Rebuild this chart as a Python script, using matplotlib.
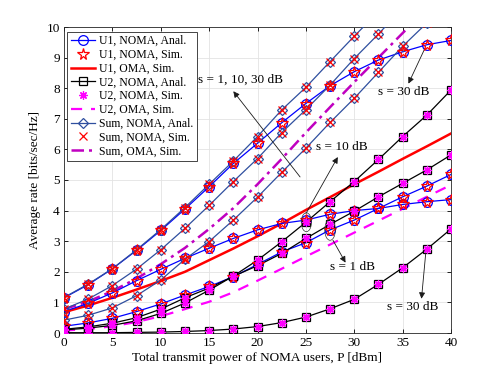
import matplotlib
matplotlib.use("Agg")
import matplotlib.pyplot as plt
from matplotlib.patches import Ellipse

plt.rcParams['font.family'] = ['Liberation Serif', 'DejaVu Serif']

P = [0, 2.5, 5, 7.5, 10, 12.5, 15, 17.5, 20, 22.5, 25, 27.5, 30, 32.5, 35, 37.5, 40]

# U1 NOMA (s = 1, 10, 30 dB)
u1_s1 = [0.22, 0.33, 0.48, 0.70, 0.95, 1.24, 1.52, 1.84, 2.24, 2.65, 2.95, 3.37, 3.69, 4.07, 4.45, 4.80, 5.18]
u1_s10 = [0.70, 0.97, 1.31, 1.71, 2.08, 2.44, 2.77, 3.09, 3.37, 3.58, 3.69, 3.88, 4.00, 4.07, 4.20, 4.29, 4.36]
u1_s30 = [1.15, 1.58, 2.10, 2.70, 3.35, 4.05, 4.78, 5.54, 6.20, 6.87, 7.50, 8.08, 8.54, 8.92, 9.19, 9.42, 9.56]

# U2 NOMA (s = 1, 10, 30 dB)
u2_s1 = [0.12, 0.20, 0.32, 0.50, 0.78, 1.15, 1.47, 1.85, 2.20, 2.60, 3.09, 3.55, 3.98, 4.45, 4.89, 5.33, 5.82]
u2_s10 = [0.10, 0.16, 0.25, 0.40, 0.64, 0.98, 1.40, 1.86, 2.38, 2.98, 3.62, 4.29, 4.95, 5.67, 6.42, 7.12, 7.94]
u2_s30 = [0.01, 0.01, 0.01, 0.02, 0.03, 0.05, 0.08, 0.13, 0.21, 0.34, 0.52, 0.79, 1.10, 1.59, 2.13, 2.74, 3.40]

# Sum NOMA (s = 1, 10, 30 dB)
sum_s1 = [0.42, 0.58, 0.82, 1.22, 1.73, 2.41, 2.99, 3.69, 4.44, 5.25, 6.04, 6.88, 7.67, 8.52, 9.37, 10.13, 11.00]
sum_s10 = [0.78, 1.11, 1.55, 2.09, 2.72, 3.42, 4.17, 4.95, 5.70, 6.55, 7.30, 8.10, 8.97, 9.77, 10.62, 11.41, 12.30]
sum_s30 = [1.16, 1.60, 2.10, 2.72, 3.38, 4.10, 4.86, 5.62, 6.42, 7.29, 8.03, 8.87, 9.70, 10.50, 11.30, 12.20, 12.96]

# OMA
u1_oma = [0.68, 0.90, 1.15, 1.42, 1.70, 2.00, 2.38, 2.76, 3.16, 3.58, 4.02, 4.44, 4.86, 5.27, 5.69, 6.10, 6.52]
u2_oma = [0.08, 0.13, 0.22, 0.36, 0.55, 0.78, 1.02, 1.33, 1.71, 2.10, 2.50, 2.89, 3.28, 3.67, 4.06, 4.45, 4.84]
sum_oma = [0.78, 1.03, 1.37, 1.78, 2.25, 2.78, 3.40, 4.08, 4.86, 5.69, 6.55, 7.38, 8.20, 9.00, 9.80, 10.60, 11.40]

fig = plt.figure(figsize=(4.98, 3.74), dpi=100)
ax = fig.add_axes([64/498, 41/374, 387/498, 306/374])

c_u1 = '#0000ff'
c_u2 = 'black'
c_sum = '#2f4f9f'
c_mag = '#ff00ff'
c_sumoma = '#c000c0'
ast = (8, 2, 0)

# analytical lines
for i, y in enumerate([u1_s1, u1_s10, u1_s30]):
    ax.plot(P, y, '-', color=c_u1, lw=0.9, marker='o', ms=7, mfc='none', mec=c_u1, mew=0.9,
            label='U1, NOMA, Anal.' if i == 0 else None, zorder=3)
for i, y in enumerate([u2_s1, u2_s10, u2_s30]):
    ax.plot(P, y, '-', color=c_u2, lw=0.9, marker='s', ms=6, mfc='none', mec=c_u2, mew=0.9,
            label='U2, NOMA, Anal.' if i == 0 else None, zorder=3)
for i, y in enumerate([sum_s1, sum_s10, sum_s30]):
    ax.plot(P, y, '-', color=c_sum, lw=0.9, marker='D', ms=5.5, mfc='none', mec=c_sum, mew=0.9,
            label='Sum, NOMA, Anal.' if i == 0 else None, zorder=3)

# simulation markers
for i, y in enumerate([u1_s1, u1_s10, u1_s30]):
    ax.plot(P, y, ls='none', marker='*', ms=8.5, mfc='none', mec='red', mew=0.9,
            label='U1, NOMA, Sim.' if i == 0 else None, zorder=4)
for i, y in enumerate([u2_s1, u2_s10, u2_s30]):
    ax.plot(P, y, ls='none', marker=ast, ms=6, mec=c_mag, color=c_mag, mew=0.9,
            label='U2, NOMA, Sim.' if i == 0 else None, zorder=4)
for i, y in enumerate([sum_s1, sum_s10, sum_s30]):
    ax.plot(P, y, ls='none', marker='x', ms=6, mec='red', color='red', mew=0.9,
            label='Sum, NOMA, Sim.' if i == 0 else None, zorder=4)

# OMA
ax.plot(P, u1_oma, '-', color='red', lw=1.8, label='U1, OMA, Sim.', zorder=2)
ax.plot(P, u2_oma, '--', color=c_mag, lw=1.6, dashes=(5, 4), label='U2, OMA, Sim.', zorder=2)
ax.plot(P, sum_oma, '-.', color=c_sumoma, lw=1.8, dashes=(5, 2, 1.2, 2), label='Sum, OMA, Sim.', zorder=2)

ax.set_xlim(0, 40)
ax.set_ylim(0, 10)
ax.set_xticks(range(0, 41, 5))
ax.set_yticks(range(0, 11))
ax.grid(True, color='#e3e3e3', lw=0.6)
ax.set_axisbelow(True)
ax.tick_params(direction='in', top=True, right=True, length=3, width=0.6, labelsize=9.5, pad=3)
for s in ax.spines.values():
    s.set_linewidth(0.6)
    s.set_color('#262626')

ax.set_xlabel('Total transmit power of NOMA users, P [dBm]', fontsize=9.5, labelpad=2)
ax.set_ylabel('Average rate [bits/sec/Hz]', fontsize=9.5, labelpad=4)

handles, labels = ax.get_legend_handles_labels()
order = ['U1, NOMA, Anal.', 'U1, NOMA, Sim.', 'U1, OMA, Sim.',
         'U2, NOMA, Anal.', 'U2, NOMA, Sim.', 'U2, OMA, Sim.',
         'Sum, NOMA, Anal.', 'Sum, NOMA, Sim.', 'Sum, OMA, Sim.']
hmap = dict(zip(labels, handles))
leg = ax.legend([hmap[l] for l in order], order, loc='upper left', bbox_to_anchor=(0.008, 0.985),
                fontsize=8.5, numpoints=1, handlelength=2.1, handletextpad=0.3, labelspacing=0.15,
                borderpad=0.3, borderaxespad=0.0, fancybox=False, framealpha=1, edgecolor='#262626')
leg.get_frame().set_linewidth(0.6)

# annotations
arrow = dict(arrowstyle='-|>', color='#1a1a1a', lw=0.6, mutation_scale=9, shrinkA=0, shrinkB=0)
ax.annotate('', xy=(17.5, 7.9), xytext=(24.4, 5.1), arrowprops=arrow)
ax.text(18.2, 8.27, 's = 1, 10, 30 dB', fontsize=9.5, ha='center', va='center')

ax.annotate('', xy=(28.3, 5.75), xytext=(25.0, 3.9), arrowprops=arrow)
ax.text(28.7, 6.08, 's = 10 dB', fontsize=9.5, ha='center', va='center')

ax.add_patch(Ellipse((25.05, 3.62), 1.05, 0.62, fill=False, ec='#333333', lw=0.5, zorder=5))
ax.add_patch(Ellipse((27.5, 3.37), 1.1, 0.68, fill=False, ec='#333333', lw=0.5, zorder=5))

ax.annotate('', xy=(29.1, 2.3), xytext=(27.8, 3.03), arrowprops=arrow)
ax.text(29.8, 2.15, 's = 1 dB', fontsize=9.5, ha='center', va='center')

ax.annotate('', xy=(36.95, 1.12), xytext=(37.4, 2.65), arrowprops=arrow)
ax.text(36.0, 0.85, 's = 30 dB', fontsize=9.5, ha='center', va='center')

ax.annotate('', xy=(35.6, 8.15), xytext=(37.3, 9.3), arrowprops=arrow)
ax.text(35.1, 7.88, 's = 30 dB', fontsize=9.5, ha='center', va='center')

fig.savefig('out.png', dpi=100)
